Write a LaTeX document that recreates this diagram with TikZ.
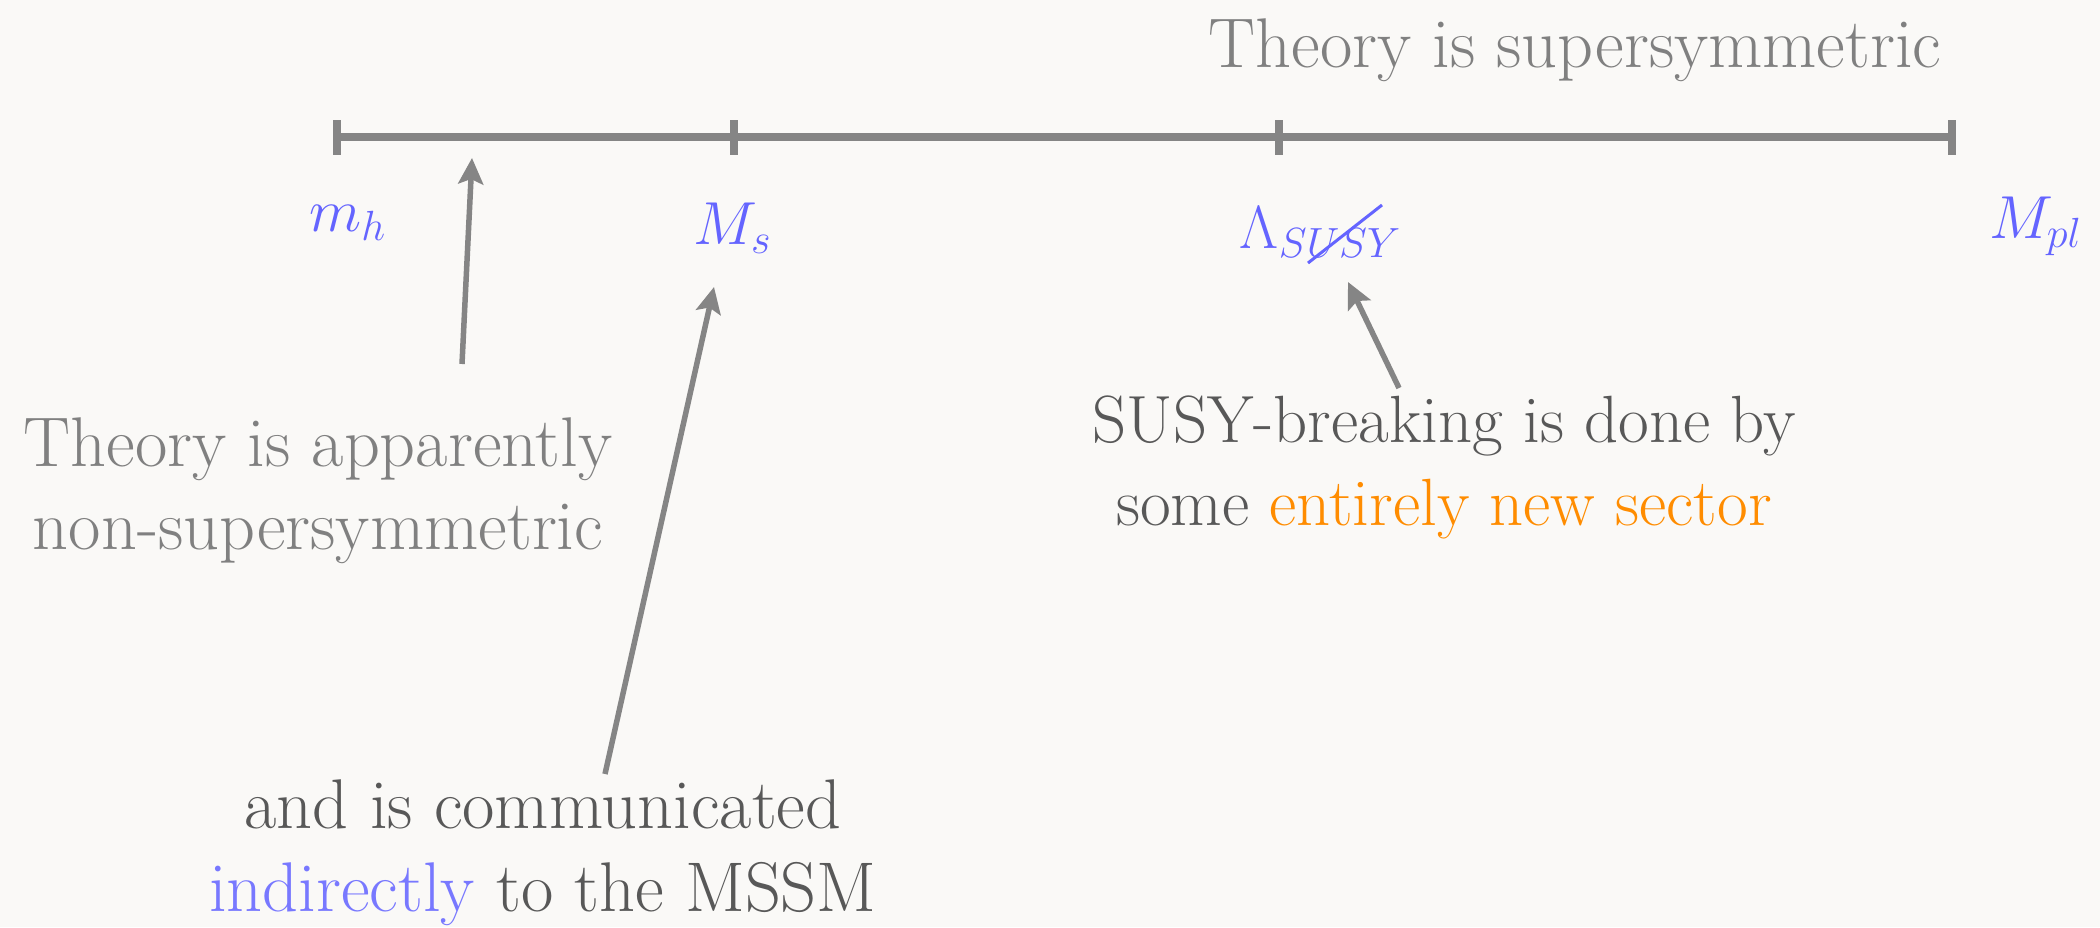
\documentclass[tikz,border=0pt]{standalone}
\usepackage{tikz}
\usetikzlibrary{arrows.meta, positioning, calc}
\definecolor{paperBg}{RGB}{250,249,247}
\definecolor{axisGray}{RGB}{133,133,133}
\definecolor{noteGray}{RGB}{128,128,128}
\definecolor{noteDark}{RGB}{88,88,88}
\definecolor{massBlue}{RGB}{100,100,255}
\definecolor{softBlue}{RGB}{120,120,255}
\definecolor{sectorOrange}{RGB}{255,140,0}

\begin{document}
\begin{tikzpicture}[
  x=0.01cm, y=-0.01cm,
  scaleline/.style={draw=axisGray, line width=0.08cm},
  tickbar/.style={draw=axisGray, line width=0.08cm},
  masslab/.style={text=massBlue, inner sep=0pt, font=\fontsize{18.5}{22}\selectfont},
  note/.style={align=center, inner sep=0pt, anchor=base,
               font=\fontsize{20}{23.5}\selectfont},
  pointer/.style={-{Stealth[length=0.26cm, width=0.25cm, inset=0.05cm]},
                  draw=axisGray, line width=0.055cm}
]
  \fill[paperBg] (0,0) rectangle (2100,927);
  \useasboundingbox (0,0) rectangle (2100,927);

  % Energy scale
  \coordinate (tmh) at (337,137);
  \coordinate (tms) at (734,137);
  \coordinate (tsusy) at (1279,137);
  \coordinate (tpl) at (1952,137);

  \draw[scaleline] (tmh) -- (tpl);
  \foreach \t in {tmh, tms, tsusy, tpl}
    \draw[tickbar] ($(\t)+(0,-17)$) -- ($(\t)+(0,18)$);

  % Mass labels
  \node[masslab] (lmh) at (348,223) {$m_h$};
  \node[masslab] (lms) at (733,228) {$M_s$};
  \node[masslab] (lsusy) at (1321,232) {$\Lambda_{SUSY}$};
  \node[masslab] (lpl) at (2036,226) {$M_{pl}$};
  \draw[massBlue, line width=0.03cm] (1308,263) -- (1382,205);

  % Notes (anchored at the baseline of the last line)
  \node[note, text=noteGray] (susytop) at (1575,67) {Theory is supersymmetric};
  \node[note, text=noteGray] (apparent) at (318,549)
    {Theory is apparently\\non-supersymmetric};
  \node[note, text=noteDark, font=\fontsize{19}{23.5}\selectfont] (breaking) at (1444,525)
    {SUSY-breaking is done by\\some \textcolor{sectorOrange}{entirely new sector}};
  \node[note, text=noteDark] (indirect) at (543,911)
    {and is communicated\\\textcolor{softBlue}{indirectly} to the MSSM};

  % Pointers
  \coordinate (p1a) at (462,364);
  \coordinate (p1b) at (472,158);
  \coordinate (p2a) at (605,774);
  \coordinate (p2b) at (714,287);
  \coordinate (p3a) at (1399,388);
  \coordinate (p3b) at (1348,282);

  \draw[pointer] (p1a) -- (p1b);
  \draw[pointer] (p2a) -- (p2b);
  \draw[pointer] (p3a) -- (p3b);
\end{tikzpicture}
\end{document}
